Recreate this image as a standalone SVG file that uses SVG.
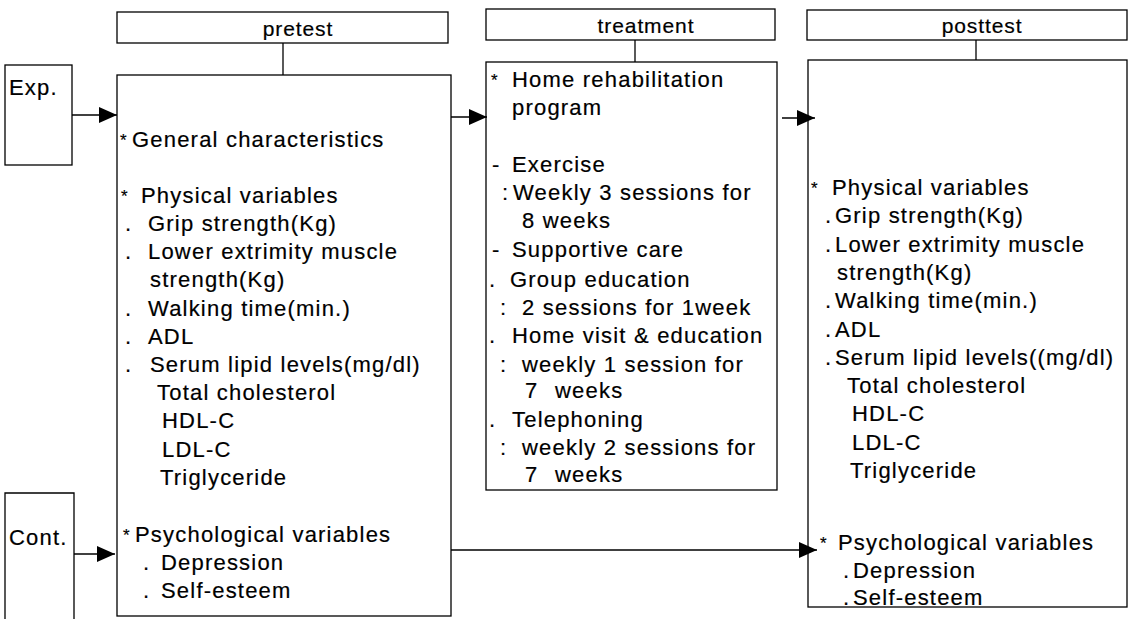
<svg xmlns="http://www.w3.org/2000/svg" width="1130" height="619" viewBox="0 0 1130 619">
<style>
rect{fill:none;stroke:#000;stroke-width:1.3}
line{stroke:#000;stroke-width:1.3}
text{font-family:"Liberation Sans",Arial,sans-serif;font-size:22px;fill:#000;letter-spacing:1.2px;stroke:#000;stroke-width:0.2px}
.h{text-anchor:middle;font-size:21px;letter-spacing:0.9px}
.s{font-size:17px}
</style>
<defs>
<marker id="ah" markerUnits="userSpaceOnUse" markerWidth="19" markerHeight="17" refX="18" refY="8" orient="auto">
<path d="M0,0 L18,8 L0,16 Z" fill="#000"/>
</marker>
</defs>
<rect width="1130" height="619" fill="#fff" style="fill:#fff;stroke:none"/>

<g id="pretest-header">
<rect x="117" y="12" width="331" height="31"/>
<text class="h" x="298" y="36">pretest</text>
</g>
<g id="treatment-header">
<rect x="486" y="9" width="289" height="31"/>
<text class="h" x="646" y="33">treatment</text>
</g>
<g id="posttest-header">
<rect x="807" y="10" width="320" height="30"/>
<text class="h" x="982" y="33">posttest</text>
</g>

<g id="exp">
<rect x="5" y="65" width="67" height="100"/>
<text x="9" y="95">Exp.</text>
</g>
<g id="cont">
<path d="M5,620 V493 H74 V620" fill="none" stroke="#000" stroke-width="1.3"/>
<text x="9" y="545">Cont.</text>
</g>

<g id="pretest">
<rect x="117" y="75" width="334" height="541"/>
<text class="s" x="120" y="146">*</text><text x="132" y="147">General characteristics</text>
<text class="s" x="121" y="202">*</text><text x="141" y="203">Physical variables</text>
<text x="125" y="231">.</text><text x="148" y="231">Grip strength(Kg)</text>
<text x="125" y="259">.</text><text x="148" y="259">Lower extrimity muscle</text>
<text x="150" y="287">strength(Kg)</text>
<text x="125" y="316">.</text><text x="148" y="316">Walking time(min.)</text>
<text x="125" y="344">.</text><text x="148" y="344">ADL</text>
<text x="125" y="372">.</text><text x="150" y="372">Serum lipid levels(mg/dl)</text>
<text x="157" y="400">Total cholesterol</text>
<text x="162" y="428">HDL-C</text>
<text x="162" y="457">LDL-C</text>
<text x="160" y="485">Triglyceride</text>
<text class="s" x="123" y="541">*</text><text x="135" y="542">Psychological variables</text>
<text x="143" y="570">.</text><text x="161" y="570">Depression</text>
<text x="143" y="598">.</text><text x="161" y="598">Self-esteem</text>
</g>

<g id="treatment">
<rect x="486" y="62" width="291" height="428"/>
<text class="s" x="491" y="86">*</text><text x="512" y="87">Home rehabilitation</text>
<text x="512" y="115">program</text>
<text x="492" y="172">-</text><text x="512" y="172">Exercise</text>
<text x="502" y="200">:</text><text x="513" y="200">Weekly 3 sessions for</text>
<text x="522" y="228">8 weeks</text>
<text x="492" y="257">-</text><text x="512" y="257">Supportive care</text>
<text x="489" y="287">.</text><text x="510" y="287">Group education</text>
<text x="500" y="315">:</text><text x="522" y="315">2 sessions for 1week</text>
<text x="489" y="343">.</text><text x="512" y="343">Home visit &amp; education</text>
<text x="500" y="372">:</text><text x="522" y="372">weekly 1 session for</text>
<text x="525" y="398">7</text><text x="555" y="398">weeks</text>
<text x="489" y="427">.</text><text x="512" y="427">Telephoning</text>
<text x="500" y="455">:</text><text x="522" y="455">weekly 2 sessions for</text>
<text x="525" y="482">7</text><text x="555" y="482">weeks</text>
</g>

<g id="posttest">
<rect x="808" y="60" width="319" height="547"/>
<text class="s" x="811" y="194">*</text><text x="832" y="195">Physical variables</text>
<text x="825" y="223">.</text><text x="835" y="223">Grip strength(Kg)</text>
<text x="825" y="252">.</text><text x="835" y="252">Lower extrimity muscle</text>
<text x="837" y="280">strength(Kg)</text>
<text x="825" y="308">.</text><text x="835" y="308">Walking time(min.)</text>
<text x="825" y="337">.</text><text x="835" y="337">ADL</text>
<text x="825" y="365">.</text><text x="835" y="365">Serum lipid levels((mg/dl)</text>
<text x="847" y="393">Total cholesterol</text>
<text x="852" y="421">HDL-C</text>
<text x="852" y="450">LDL-C</text>
<text x="850" y="478">Triglyceride</text>
<text class="s" x="820" y="549">*</text><text x="838" y="550">Psychological variables</text>
<text x="843" y="578">.</text><text x="853" y="578">Depression</text>
<text x="843" y="605">.</text><text x="853" y="605">Self-esteem</text>
</g>

<g id="connectors">
<line x1="283" y1="43" x2="283" y2="75"/>
<line x1="635" y1="40" x2="635" y2="62"/>
<line x1="976" y1="40" x2="976" y2="60"/>
<line x1="72" y1="115" x2="117" y2="115" marker-end="url(#ah)"/>
<line x1="451" y1="117" x2="487" y2="117" marker-end="url(#ah)"/>
<line x1="782" y1="118" x2="815" y2="118" marker-end="url(#ah)"/>
<line x1="74" y1="554" x2="115" y2="554" marker-end="url(#ah)"/>
<line x1="451" y1="550" x2="817" y2="550" marker-end="url(#ah)"/>
</g>
</svg>
